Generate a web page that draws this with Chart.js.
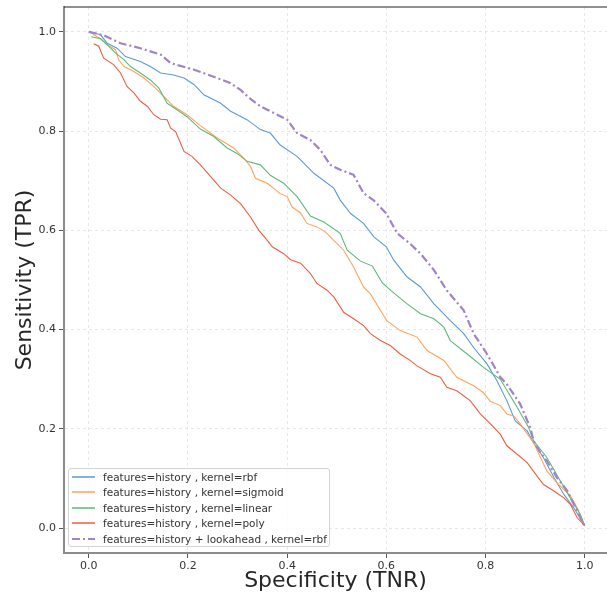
<!DOCTYPE html>
<html>
<head>
<meta charset="utf-8">
<script src="https://cdn.jsdelivr.net/npm/chart.js@4"></script>
<style>
  html, body { margin: 0; padding: 0; background: #fff; overflow: hidden; }
  #wrap { position: relative; width: 607px; height: 596px; }
  #legend {
    position: absolute; left: 68px; top: 468px; width: 262px; height: 79px;
    box-sizing: border-box; border: 1px solid #d4d4d4; border-radius: 3px;
    background: rgba(255, 255, 255, 0.8);
    font: 10.5px "DejaVu Sans", sans-serif; color: #333;
    white-space: nowrap; overflow: hidden;
  }
  #legend .row { height: 15.5px; display: flex; align-items: center; }
  #legend svg { margin-left: 3px; margin-right: 8px; flex: none; }
</style>
</head>
<body>
<div id="wrap">
  <canvas id="roc" width="607" height="596"></canvas>
  <div id="legend"></div>
</div>
<script>
const X_TICKS = [0, 0.2, 0.4, 0.6, 0.8, 1.0];
const Y_TICKS = [0, 0.2, 0.4, 0.6, 0.8, 1.0];

const LABELS = [
  "features=history , kernel=rbf",
  "features=history , kernel=sigmoid",
  "features=history , kernel=linear",
  "features=history , kernel=poly",
  "features=history + lookahead , kernel=rbf",
];
const COLORS = ["#5b9bd5", "#ffa25e", "#5fba78", "#f05d40", "#a083c8"];
const WIDTHS = [1.1, 1.1, 1.1, 1.1, 2.2];
const DASHES = [[], [], [], [], [8, 3, 2, 3]];

// specificity (x) / sensitivity (y)
const RBF_X = [0, 0.024, 0.037, 0.057, 0.074, 0.104, 0.124, 0.145, 0.171, 0.192, 0.212, 0.232, 0.266, 0.286, 0.319, 0.346, 0.366, 0.386, 0.42, 0.454, 0.494, 0.507, 0.528, 0.554, 0.575, 0.6, 0.615, 0.642, 0.669, 0.696, 0.729, 0.756, 0.776, 0.803, 0.823, 0.843, 0.86, 0.884, 0.897, 0.917, 0.938, 0.958, 0.978, 1.0];
const RBF_Y = [1.0, 0.994, 0.977, 0.967, 0.95, 0.94, 0.93, 0.917, 0.913, 0.907, 0.894, 0.873, 0.856, 0.84, 0.823, 0.803, 0.796, 0.772, 0.749, 0.715, 0.685, 0.661, 0.634, 0.614, 0.587, 0.567, 0.54, 0.506, 0.486, 0.452, 0.418, 0.392, 0.364, 0.331, 0.297, 0.257, 0.216, 0.196, 0.172, 0.142, 0.102, 0.068, 0.041, 0.005];

const SIGMOID_X = [0.008, 0.024, 0.037, 0.054, 0.06, 0.071, 0.091, 0.111, 0.131, 0.151, 0.171, 0.198, 0.225, 0.259, 0.292, 0.313, 0.326, 0.336, 0.36, 0.386, 0.4, 0.41, 0.427, 0.44, 0.46, 0.477, 0.494, 0.514, 0.534, 0.554, 0.568, 0.588, 0.601, 0.628, 0.662, 0.682, 0.716, 0.742, 0.776, 0.796, 0.81, 0.83, 0.843, 0.857, 0.87, 0.897, 0.911, 0.924, 0.944, 0.971, 0.985, 1.0];
const SIGMOID_Y = [0.995, 0.986, 0.974, 0.964, 0.944, 0.93, 0.92, 0.907, 0.89, 0.87, 0.85, 0.833, 0.811, 0.786, 0.766, 0.745, 0.729, 0.705, 0.695, 0.674, 0.668, 0.647, 0.635, 0.614, 0.607, 0.597, 0.58, 0.56, 0.526, 0.486, 0.472, 0.439, 0.418, 0.398, 0.385, 0.358, 0.338, 0.304, 0.287, 0.273, 0.255, 0.247, 0.23, 0.226, 0.21, 0.172, 0.142, 0.115, 0.092, 0.065, 0.041, 0.005];

const LINEAR_X = [0.005, 0.024, 0.037, 0.054, 0.071, 0.084, 0.104, 0.124, 0.141, 0.158, 0.178, 0.198, 0.225, 0.252, 0.279, 0.299, 0.319, 0.346, 0.366, 0.393, 0.42, 0.447, 0.474, 0.507, 0.521, 0.548, 0.572, 0.592, 0.61, 0.642, 0.669, 0.696, 0.716, 0.729, 0.763, 0.796, 0.83, 0.845, 0.864, 0.887, 0.897, 0.924, 0.951, 0.971, 0.991, 1.0];
const LINEAR_Y = [0.99, 0.986, 0.974, 0.957, 0.944, 0.93, 0.917, 0.903, 0.887, 0.856, 0.843, 0.829, 0.804, 0.789, 0.766, 0.755, 0.739, 0.732, 0.711, 0.695, 0.668, 0.629, 0.617, 0.594, 0.56, 0.538, 0.528, 0.494, 0.478, 0.452, 0.432, 0.422, 0.405, 0.378, 0.351, 0.324, 0.3, 0.275, 0.243, 0.203, 0.176, 0.142, 0.095, 0.061, 0.028, 0.005];

const POLY_X = [0.01, 0.02, 0.03, 0.05, 0.064, 0.077, 0.091, 0.104, 0.118, 0.131, 0.145, 0.158, 0.165, 0.175, 0.192, 0.208, 0.225, 0.252, 0.266, 0.286, 0.306, 0.326, 0.343, 0.36, 0.37, 0.393, 0.407, 0.427, 0.447, 0.46, 0.481, 0.494, 0.514, 0.534, 0.554, 0.568, 0.588, 0.608, 0.628, 0.648, 0.662, 0.689, 0.709, 0.722, 0.742, 0.769, 0.79, 0.81, 0.83, 0.843, 0.864, 0.884, 0.904, 0.917, 0.938, 0.958, 0.971, 0.985, 1.0];
const POLY_Y = [0.976, 0.971, 0.947, 0.934, 0.917, 0.89, 0.877, 0.86, 0.85, 0.833, 0.824, 0.823, 0.806, 0.799, 0.759, 0.749, 0.732, 0.701, 0.685, 0.671, 0.654, 0.627, 0.6, 0.58, 0.567, 0.553, 0.541, 0.534, 0.513, 0.493, 0.479, 0.466, 0.435, 0.422, 0.408, 0.392, 0.378, 0.368, 0.351, 0.338, 0.327, 0.311, 0.304, 0.284, 0.277, 0.257, 0.23, 0.21, 0.189, 0.166, 0.149, 0.132, 0.105, 0.088, 0.075, 0.061, 0.048, 0.021, 0.005];

const LOOKAHEAD_X = [0, 0.03, 0.064, 0.104, 0.145, 0.165, 0.211, 0.259, 0.285, 0.306, 0.326, 0.346, 0.36, 0.4, 0.42, 0.447, 0.467, 0.487, 0.507, 0.534, 0.554, 0.574, 0.6, 0.622, 0.648, 0.669, 0.696, 0.722, 0.756, 0.776, 0.803, 0.83, 0.843, 0.87, 0.89, 0.897, 0.911, 0.924, 0.944, 0.965, 0.985, 1.0];
const LOOKAHEAD_Y = [1.0, 0.993, 0.977, 0.967, 0.954, 0.937, 0.924, 0.907, 0.897, 0.883, 0.865, 0.85, 0.843, 0.823, 0.796, 0.782, 0.762, 0.732, 0.722, 0.712, 0.675, 0.661, 0.634, 0.594, 0.573, 0.553, 0.52, 0.479, 0.439, 0.392, 0.351, 0.304, 0.29, 0.25, 0.203, 0.176, 0.152, 0.135, 0.102, 0.075, 0.034, 0.003];

const SERIES = [
  [RBF_X, RBF_Y],
  [SIGMOID_X, SIGMOID_Y],
  [LINEAR_X, LINEAR_Y],
  [POLY_X, POLY_Y],
  [LOOKAHEAD_X, LOOKAHEAD_Y],
];

const FONT = "'DejaVu Sans', sans-serif";

const topSpine = {
  id: "topSpine",
  afterDraw(chart) {
    const { ctx, chartArea } = chart;
    ctx.save();
    ctx.strokeStyle = "#222";
    ctx.lineWidth = 1.2;
    ctx.beginPath();
    ctx.moveTo(chartArea.left, chartArea.top);
    ctx.lineTo(chartArea.right, chartArea.top);
    ctx.stroke();
    ctx.restore();
  },
};

const datasets = SERIES.map(([xs, ys], i) => ({
  label: LABELS[i],
  data: xs.map((x, j) => ({ x, y: ys[j] })),
  showLine: true,
  borderColor: COLORS[i],
  borderWidth: WIDTHS[i],
  borderDash: DASHES[i],
  pointRadius: 0,
  tension: 0,
  order: SERIES.length - i,
}));

const chart = new Chart(document.getElementById("roc"), {
  type: "scatter",
  data: { datasets },
  options: {
    responsive: false,
    animation: false,
    devicePixelRatio: 1,
    layout: { padding: { top: 7, left: 0, right: 0, bottom: 0 } },
    plugins: {
      legend: { display: false },
      tooltip: { enabled: false },
    },
    scales: {
      x: {
        type: "linear",
        min: -0.05,
        max: 1.045,
        afterBuildTicks: (s) => { s.ticks = X_TICKS.map((v) => ({ value: v })); },
        afterFit: (s) => {
          s.height = 43;
          s.paddingLeft = 0;
          s.paddingRight = 0;
        },
        title: {
          display: true,
          text: "Specificity (TNR)",
          font: { family: FONT, size: 22 },
          color: "#262626",
          padding: { top: 0, bottom: 2 },
        },
        grid: {
          color: "#e2e2e2",
          lineWidth: 0.8,
          tickColor: "#555",
          tickLength: 5,
          tickWidth: 1,
          tickBorderDash: [],
        },
        border: { color: "#8c8c8c", width: 2, dash: [3, 3] },
        ticks: {
          font: { family: FONT, size: 11 },
          color: "#333",
          padding: 2,
          maxRotation: 0,
          callback: (v) => v.toFixed(1),
        },
      },
      y: {
        type: "linear",
        min: -0.05,
        max: 1.05,
        afterBuildTicks: (s) => { s.ticks = Y_TICKS.map((v) => ({ value: v })); },
        afterFit: (s) => {
          s.width = 64;
          s.paddingTop = 0;
          s.paddingBottom = 0;
        },
        title: {
          display: true,
          text: "Sensitivity (TPR)",
          font: { family: FONT, size: 22 },
          color: "#262626",
          padding: { top: 12, bottom: 0 },
        },
        grid: {
          color: "#e2e2e2",
          lineWidth: 0.8,
          tickColor: "#555",
          tickLength: 5,
          tickWidth: 1,
          tickBorderDash: [],
        },
        border: { color: "#8c8c8c", width: 2, dash: [3, 3] },
        ticks: {
          font: { family: FONT, size: 11 },
          color: "#333",
          padding: 3,
          callback: (v) => v.toFixed(1),
        },
      },
    },
  },
  plugins: [topSpine],
});

// html legend, same order as the datasets
const legend = document.getElementById("legend");
LABELS.forEach((label, i) => {
  const row = document.createElement("div");
  row.className = "row";
  const dash = DASHES[i].length ? `stroke-dasharray="${DASHES[i].join(" ")}"` : "";
  row.innerHTML =
    `<svg width="23" height="8"><line x1="0" y1="4" x2="23" y2="4" stroke="${COLORS[i]}" ` +
    `stroke-width="${Math.max(WIDTHS[i], 1.4)}" ${dash}/></svg><span>${label}</span>`;
  legend.appendChild(row);
});
</script>
</body>
</html>
